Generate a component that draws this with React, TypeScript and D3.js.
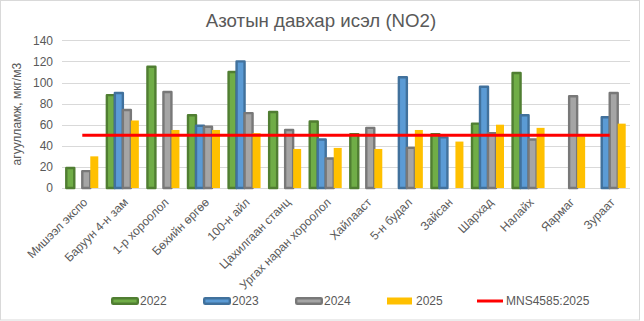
import React from "react";
import * as d3 from "d3";

const categories = [
  "Мишээл экспо",
  "Баруун 4-н зам",
  "1-р хороолол",
  "Бөхийн өргөө",
  "100-н айл",
  "Цахилгаан станц",
  "Ургах наран хороолол",
  "Хайлааст",
  "5-н будал",
  "Зайсан",
  "Шархад",
  "Налайх",
  "Яармаг",
  "Зураат",
];
const v2022 = [19, 88, 115, 69, 110, 72, 63, 51, null, 51, 61, 109, null, null];
const v2023 = [null, 90, null, 59, 120, null, 46, null, 105, 48, 96, 69, null, 67];
const v2024 = [16, 74, 91, 58, 71, 55, 28, 57, 38, null, 52, 46, 87, 90];
const v2025 = [30, 64, 55, 55, 52, 37, 38, 37, 55, 44, 60, 57, 49, 61];
const standard = [50, 50, 50, 50, 50, 50, 50, 50, 50, 50, 50, 50, 50, 50];
const yTicks = [0, 20, 40, 60, 80, 100, 120, 140];
const seriesNames = ["2022", "2023", "2024", "2025"];
const lineName = "MNS4585:2025";
const title = "Азотын давхар исэл (NO2)";
const yTitle = "агуулламж, мкг/м3";

const seriesValues = [v2022, v2023, v2024, v2025];
const fills = ["#70AD47", "#5B9BD5", "#A5A5A5", "#FFC000"];
const strokes = ["#507E32", "#41719C", "#787878", "none"];

const W = 644;
const H = 321;
const plot = { left: 62, right: 630, top: 40.3, bottom: 188 };
const font = "'Liberation Sans', Arial, sans-serif";
const textColor = "#595959";

export default function App() {
  const x = d3.scaleBand<string>().domain(categories).range([plot.left, plot.right]).padding(0);
  const bw = x.bandwidth();
  const barW = 8;
  const gap = bw - barW * 4;
  const xs = d3
    .scaleBand<string>()
    .domain(seriesNames)
    .range([gap / 2, bw - gap / 2])
    .padding(0);
  const y = d3.scaleLinear().domain([0, 140]).range([plot.bottom, plot.top]);

  const line = d3
    .line<number>()
    .x((_, i) => (x(categories[i]) as number) + bw / 2)
    .y((d) => y(d));

  const legendX = [111, 203, 295, 387];

  return (
    <svg
      width={W}
      height={H}
      style={{ position: "absolute", left: 0, top: 0, background: "#fff" }}
      fontFamily={font}
    >
      <rect x={0.5} y={0.5} width={639} height={319.5} fill="#fff" stroke="#D9D9D9" strokeWidth={1} />
      <text x={321} y={27} textAnchor="middle" fontSize={18.67} fill={textColor}>
        {title}
      </text>
      {yTicks.map((t) => (
        <g key={t}>
          <line x1={plot.left} x2={plot.right} y1={Math.round(y(t)) + 0.5} y2={Math.round(y(t)) + 0.5} stroke="#D9D9D9" strokeWidth={1} />
          <text x={53} y={y(t)} dy="0.35em" textAnchor="end" fontSize={12} fill={textColor}>
            {t}
          </text>
        </g>
      ))}
      <text
        transform={`translate(21,${(plot.top + plot.bottom) / 2}) rotate(-90)`}
        textAnchor="middle"
        fontSize={12}
        fill={textColor}
      >
        {yTitle}
      </text>
      {seriesValues.map((vals, si) => (
        <g key={si}>
          {vals.map((v, ci) =>
            v == null ? null : (
              <rect
                key={ci}
                x={(x(categories[ci]) as number) + (xs(seriesNames[si]) as number)}
                y={y(v)}
                width={barW}
                height={y(0) - y(v)}
                fill={fills[si]}
                stroke={strokes[si]}
                strokeWidth={strokes[si] === "none" ? 0 : 2.4}
                strokeLinejoin="round"
              />
            )
          )}
        </g>
      ))}
      <path d={line(standard) as string} fill="none" stroke="#FF0000" strokeWidth={3} />
      {categories.map((c) => (
        <text
          key={c}
          transform={`translate(${(x(c) as number) + bw / 2 + 6},203) rotate(-45)`}
          textAnchor="end"
          fontSize={12}
          fill={textColor}
        >
          {c}
        </text>
      ))}
      {seriesNames.map((s, i) => (
        <g key={s}>
          <rect
            x={legendX[i] + (i < 3 ? 1.2 : 0)}
            y={i < 3 ? 298.2 : 297.5}
            width={i < 3 ? 25.6 : 25}
            height={i < 3 ? 5.6 : 7}
            rx={i < 3 ? 1 : 0}
            fill={fills[i]}
            stroke={strokes[i]}
            strokeWidth={i < 3 ? 2.4 : 0}
          />
          <text x={legendX[i] + 29} y={301} dy="0.35em" fontSize={12} fill={textColor}>
            {s}
          </text>
        </g>
      ))}
      <line x1={477} x2={503} y1={301} y2={301} stroke="#FF0000" strokeWidth={3} />
      <text x={506} y={301} dy="0.35em" fontSize={12} fill={textColor}>
        {lineName}
      </text>
    </svg>
  );
}
